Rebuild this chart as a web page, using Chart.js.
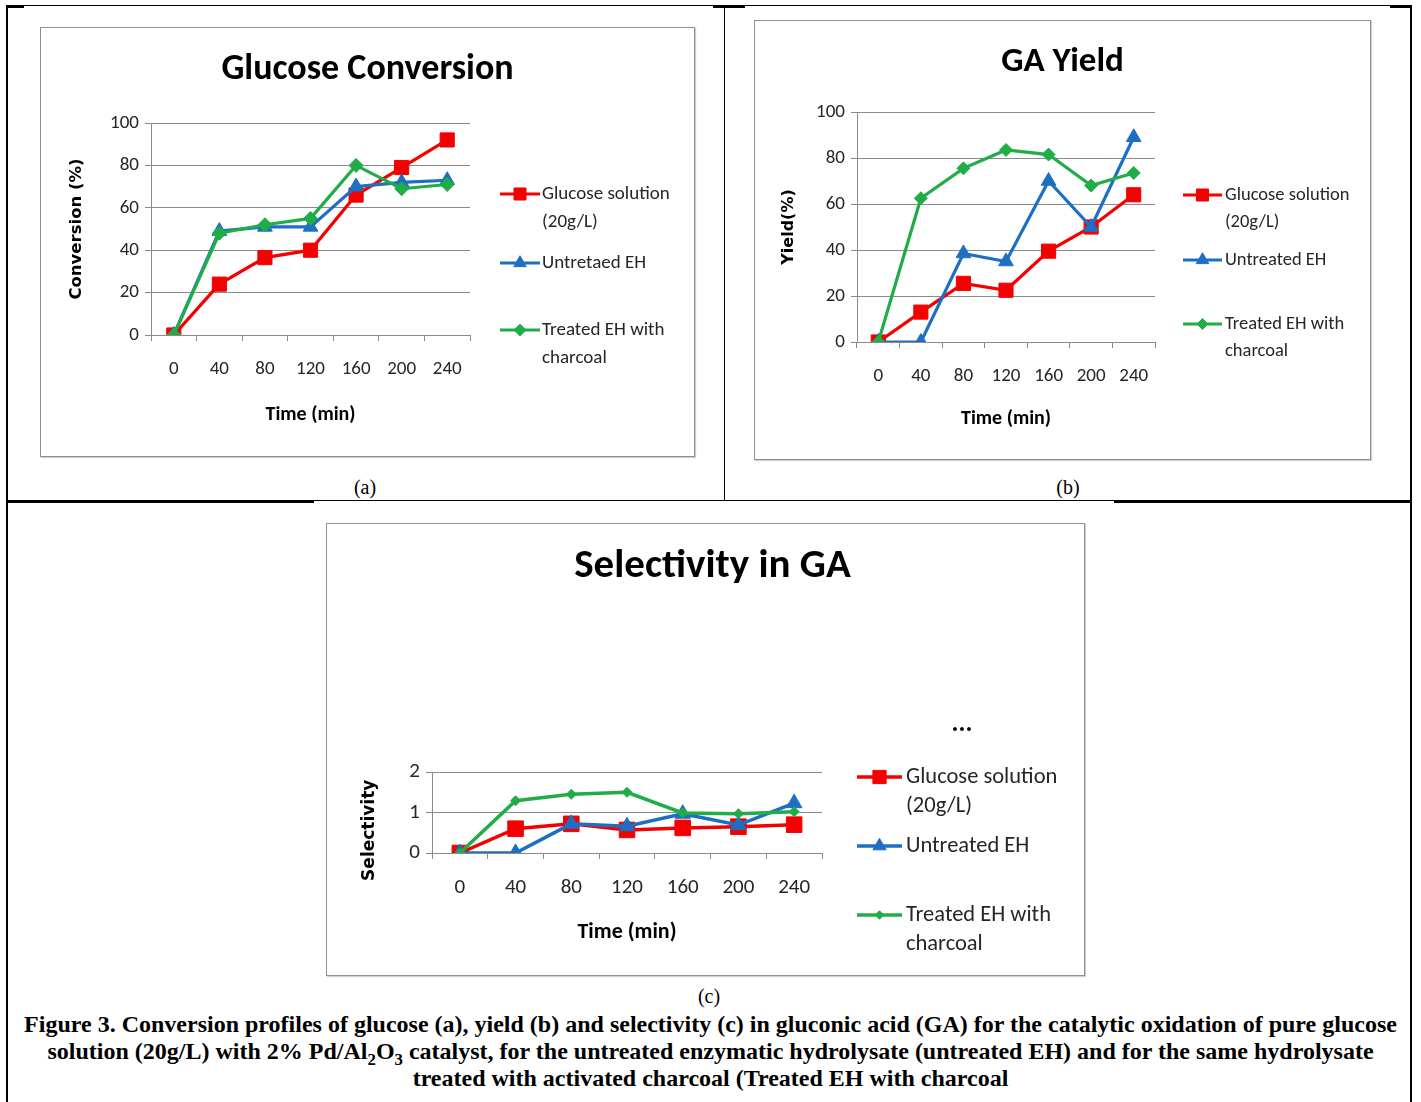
<!DOCTYPE html>
<html>
<head>
<meta charset="utf-8">
<script src="https://cdn.jsdelivr.net/npm/chart.js@4.4.1/dist/chart.umd.min.js"></script>
<style>
  html, body { margin: 0; padding: 0; background: #fff; }
  #page { position: relative; width: 1421px; height: 1102px; overflow: hidden; background: #fff; }
  .ln { position: absolute; background: #000; }
  .box { position: absolute; border: 1px solid #8e8e8e; box-shadow: 1px 1px 1px #d0d0d0; background: #fff; }
  .box canvas { position: absolute; left: 0; top: 0; }
  .sub { position: absolute; font-family: "Liberation Serif", "Times New Roman", serif; font-size: 20px; color: #000; transform: translateX(-50%); white-space: nowrap; }
  #caption { position: absolute; left: 0; width: 1421px; top: 1011px; text-align: center; font-family: "Liberation Serif", "Times New Roman", serif; font-weight: bold; font-size: 24px; line-height: 27px; color: #000; white-space: nowrap; }
  #caption sub { font-size: 0.7em; line-height: 0; }
</style>
</head>
<body>
<div id="page">
  <div class="ln" style="left:6px;top:5px;width:1406px;height:1px;"></div>
  <div class="ln" style="left:6px;top:5px;width:18px;height:3px;"></div>
  <div class="ln" style="left:713px;top:5px;width:32px;height:3px;"></div>
  <div class="ln" style="left:1390px;top:5px;width:22px;height:3px;"></div>
  <div class="ln" style="left:6px;top:5px;width:2px;height:1097px;"></div>
  <div class="ln" style="left:1410px;top:5px;width:2px;height:1097px;"></div>
  <div class="ln" style="left:724px;top:5px;width:1px;height:496px;"></div>
  <div class="ln" style="left:6px;top:500px;width:1406px;height:1px;"></div>
  <div class="ln" style="left:6px;top:500px;width:308px;height:3px;"></div>
  <div class="ln" style="left:1114px;top:500px;width:298px;height:3px;"></div>

  <div class="box" style="left:40px;top:27px;width:653px;height:428px;"><canvas id="cA" width="653" height="428"></canvas></div>
  <div class="box" style="left:754px;top:20px;width:615px;height:438px;"><canvas id="cB" width="615" height="438"></canvas></div>
  <div class="box" style="left:326px;top:523px;width:757px;height:451px;"><canvas id="cC" width="757" height="451"></canvas></div>

  <div class="sub" style="left:365px;top:476px;">(a)</div>
  <div class="sub" style="left:1068px;top:476px;">(b)</div>
  <div class="sub" style="left:709px;top:985px;">(c)</div>

  <div id="caption">Figure 3. Conversion profiles of glucose (a), yield (b) and selectivity (c) in gluconic acid (GA) for the catalytic oxidation of pure glucose<br>solution (20g/L) with 2% Pd/Al<sub>2</sub>O<sub>3</sub> catalyst, for the untreated enzymatic hydrolysate (untreated EH) and for the same hydrolysate<br>treated with activated charcoal (Treated EH with charcoal</div>
</div>

<script>
// ---------------- DATA ----------------
const timeLabels = ['0', '40', '80', '120', '160', '200', '240'];

const legendA = [['Glucose solution', '(20g/L)'], ['Untretaed EH'], ['Treated EH with', 'charcoal']];
const legendBC = [['Glucose solution', '(20g/L)'], ['Untreated EH'], ['Treated EH with', 'charcoal']];

// (a) Glucose conversion (%)
const convGlucose   = [0, 24, 36.5, 40, 66, 79, 92];
const convUntreated = [0, 49, 51, 51, 70, 72, 73];
const convTreated   = [0, 48, 52, 55, 80, 69, 71];

// (b) GA yield (%)
const yieldGlucose   = [0, 13, 25.5, 22.5, 39.5, 50, 64];
const yieldUntreated = [0, 0, 38.5, 35, 70, 50, 89];
const yieldTreated   = [0, 62.5, 75.5, 83.5, 81.5, 68, 73.5];

// (c) Selectivity in GA
const selGlucose   = [0, 0.6, 0.72, 0.57, 0.62, 0.65, 0.7];
const selUntreated = [0, 0, 0.72, 0.66, 0.97, 0.69, 1.23];
const selTreated   = [0, 1.29, 1.45, 1.5, 0.99, 0.97, 1.02];

// ---------------- STYLE ----------------
const RED = '#f40000', BLUE = '#1d6fc4', GREEN = '#20ad48';
const FONT = 'Carlito, Calibri, Lato, sans-serif';
const YFONT = '"DejaVu Sans", Verdana, sans-serif';
const TXT = '#262626';
const GRID = '#8a8a8a';

Chart.defaults.font.family = FONT;
Chart.defaults.color = TXT;

const sideLegend = {
  id: 'sideLegend',
  afterDraw(chart, args, o) {
    const ctx = chart.ctx;
    ctx.save();
    chart.data.datasets.forEach((ds, i) => {
      const y = o.rows[i];
      ctx.strokeStyle = ds.borderColor;
      ctx.lineWidth = ds.borderWidth;
      ctx.beginPath();
      ctx.moveTo(o.x0, y);
      ctx.lineTo(o.x1, y);
      ctx.stroke();
      ctx.fillStyle = ds.pointBackgroundColor;
      ctx.strokeStyle = ds.pointBorderColor;
      ctx.lineWidth = 1;
      Chart.helpers.drawPoint(ctx, {pointStyle: ds.pointStyle, radius: ds.pointRadius * o.markScale, borderWidth: 1, rotation: 0}, (o.x0 + o.x1) / 2, y);
      ctx.fillStyle = TXT;
      ctx.font = o.fontSize + 'px ' + FONT;
      ctx.textBaseline = 'middle';
      ctx.textAlign = 'left';
      (ds.legendLines || [ds.label]).forEach((t, k) => ctx.fillText(t, o.tx, y + k * o.gap));
    });
    if (o.extra) {
      ctx.fillStyle = '#000';
      ctx.font = 'bold ' + o.extra.size + 'px ' + FONT;
      ctx.textAlign = 'center';
      ctx.textBaseline = 'middle';
      ctx.fillText(o.extra.text, o.extra.x, o.extra.y);
    }
    ctx.restore();
  }
};

function mkDatasets(names, vals, sizes) {
  const cols = [RED, BLUE, GREEN];
  const styles = ['rect', 'triangle', 'rectRot'];
  return vals.map((v, i) => ({
    label: names[i].join(' '),
    legendLines: names[i],
    data: v,
    borderColor: cols[i],
    backgroundColor: cols[i],
    pointBackgroundColor: cols[i],
    pointBorderColor: cols[i],
    pointStyle: styles[i],
    pointRadius: sizes[i],
    pointBorderWidth: 1,
    borderWidth: sizes[3],
    tension: 0,
    order: 2 - i
  }));
}

function makeChart(id, p) {
  const padL = p.padLeft || 0;
  return new Chart(document.getElementById(id), {
    type: 'line',
    data: { labels: timeLabels, datasets: mkDatasets(p.names, p.vals, p.sizes) },
    options: {
      responsive: false,
      animation: false,
      devicePixelRatio: 1,
      layout: { padding: { left: padL, right: 0, top: 0, bottom: 0 } },
      plugins: {
        legend: { display: false },
        tooltip: { enabled: false },
        title: {
          display: true, text: p.title, color: '#000',
          font: { size: p.titleSize, weight: 'bold', family: FONT, lineHeight: 1.2 },
          padding: { top: p.titleCenter - p.titleSize * 0.6, bottom: p.areaTop - p.titleCenter - p.titleSize * 0.6 }
        },
        sideLegend: p.legend
      },
      scales: {
        x: {
          type: 'category',
          offset: true,
          grid: { display: true, drawOnChartArea: false, drawTicks: true, tickLength: 6, offset: true, color: GRID },
          border: { display: true, color: GRID, width: 1 },
          ticks: { font: { size: p.tickSize }, padding: p.xTickPad, color: TXT, maxRotation: 0 },
          title: { display: true, text: 'Time (min)', color: '#000', font: { size: p.xTitleSize, weight: 'bold', lineHeight: 1.2 }, padding: { top: 0, bottom: p.xTitleOff - p.xTitleSize * 0.6 } },
          afterFit: s => { s.height = p.xHeight; }
        },
        y: {
          min: 0, max: p.yMax,
          ticks: { stepSize: p.yStep, font: { size: p.tickSize }, padding: 6, color: TXT },
          grid: { color: GRID, lineWidth: 1, tickLength: 6, drawTicks: true },
          border: { display: true, color: GRID, width: 1 },
          title: { display: true, text: p.yTitle, color: '#000', font: { family: YFONT, size: p.yTitleSize, weight: 'bold', lineHeight: 1.2 }, padding: { top: p.yTitleX - padL - p.yTitleSize * 0.6, bottom: 0 } },
          afterFit: s => { s.width = p.yWidth - padL; }
        },
        yR: {
          position: 'right', display: true,
          ticks: { display: false }, grid: { display: false }, border: { display: false },
          afterFit: s => { s.width = p.rightWidth; }
        }
      }
    },
    plugins: [sideLegend]
  });
}

makeChart('cA', {
  names: legendA, vals: [convGlucose, convUntreated, convTreated], sizes: [10, 8.5, 7, 3.2],
  title: 'Glucose Conversion', titleSize: 36, titleCenter: 42, areaTop: 95,
  yTitle: 'Conversion (%)', yTitleSize: 16.5, yTitleX: 36,
  yMax: 100, yStep: 20, tickSize: 19, xTickPad: 17, xTitleSize: 20, xTitleOff: 41,
  xHeight: 121, yWidth: 110, rightWidth: 224,
  legend: { x0: 459, x1: 499, tx: 501, rows: [166, 235, 302], gap: 28, fontSize: 19, markScale: 0.85 }
});

makeChart('cB', {
  names: legendBC, vals: [yieldGlucose, yieldUntreated, yieldTreated], sizes: [10, 8.5, 6.5, 3.2],
  title: 'GA Yield', titleSize: 35, titleCenter: 41, areaTop: 91,
  yTitle: 'Yield(%)', yTitleSize: 16, yTitleX: 34,
  yMax: 100, yStep: 20, tickSize: 19, xTickPad: 17, xTitleSize: 20, xTitleOff: 40,
  xHeight: 117, yWidth: 102, rightWidth: 215,
  legend: { x0: 428, x1: 467, tx: 470, rows: [174, 239, 303], gap: 27, fontSize: 18.5, markScale: 0.85 }
});

makeChart('cC', {
  names: legendBC, vals: [selGlucose, selUntreated, selTreated], sizes: [11, 9, 5, 3.5],
  title: 'Selectivity in GA', titleSize: 41, titleCenter: 43, areaTop: 248, padLeft: 14,
  yTitle: 'Selectivity      ', yTitleSize: 17, yTitleX: 43,
  yMax: 2, yStep: 1, tickSize: 21, xTickPad: 16, xTitleSize: 22, xTitleOff: 43,
  xHeight: 122, yWidth: 105, rightWidth: 262,
  legend: { x0: 530, x1: 575, tx: 579, rows: [253, 322, 391], gap: 29, fontSize: 22.5, markScale: 0.85,
            extra: { text: '...', x: 635, y: 200, size: 26 } }
});
</script>
</body>
</html>
